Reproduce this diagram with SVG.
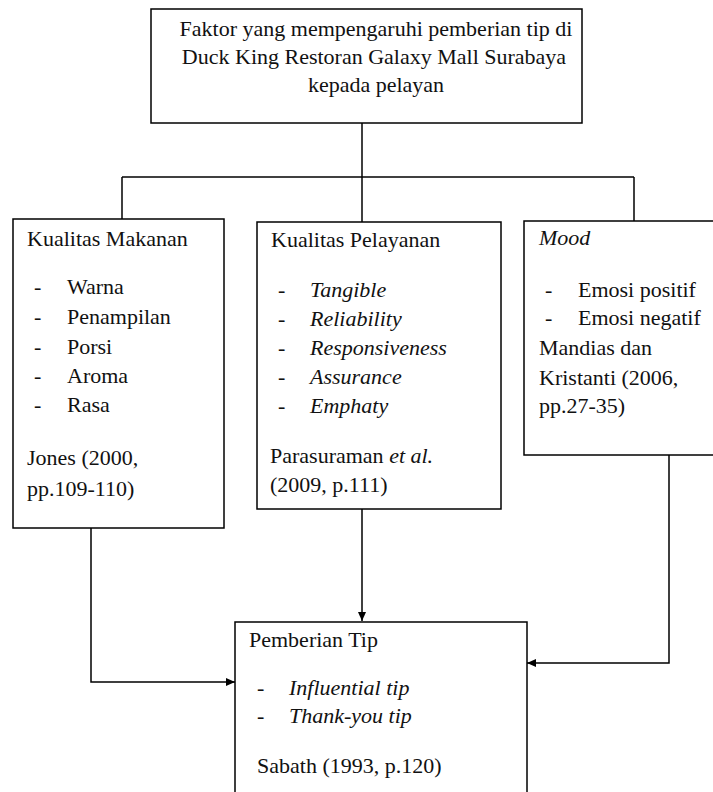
<svg xmlns="http://www.w3.org/2000/svg" width="713" height="792" viewBox="0 0 713 792">
<style>
.box{fill:#fff;stroke:#000;stroke-width:1.5}
text{font-family:'Liberation Serif','Times New Roman',Times,'DejaVu Serif',serif;font-size:22px;fill:#111}
.i{font-style:italic}
.c{text-anchor:middle}
.ln{fill:none;stroke:#000;stroke-width:1.5}
</style>
<defs>
<marker id="ah" markerWidth="10" markerHeight="10" refX="9" refY="5" orient="auto" markerUnits="userSpaceOnUse">
<path d="M0,1 L9,5 L0,9 Z" fill="#000"/>
</marker>
</defs>
<rect width="713" height="792" fill="#fff"/>
<g id="connectors">
<path class="ln" d="M362,123 V177"/>
<path class="ln" d="M122,177 H634"/>
<path class="ln" d="M122,177 V219"/>
<path class="ln" d="M362,177 V222"/>
<path class="ln" d="M634,177 V221"/>
<path class="ln" d="M362,509 V621" marker-end="url(#ah)"/>
<path class="ln" d="M91,528 V682 H235" marker-end="url(#ah)"/>
<path class="ln" d="M669,455 V663 H527" marker-end="url(#ah)"/>
</g>
<g id="top" font-family="Liberation Serif, serif">
<rect class="box" x="151" y="9" width="431" height="114"/>
<text class="c" x="376" y="36">Faktor yang mempengaruhi pemberian tip di</text>
<text class="c" x="374" y="64">Duck King Restoran Galaxy Mall Surabaya</text>
<text class="c" x="376" y="92">kepada pelayan</text>
</g>
<g id="makanan">
<rect class="box" x="13" y="219" width="211" height="309"/>
<text x="27" y="246">Kualitas Makanan</text>
<text x="34" y="294">-</text><text x="67" y="294">Warna</text>
<text x="34" y="324">-</text><text x="67" y="324">Penampilan</text>
<text x="34" y="354">-</text><text x="67" y="354">Porsi</text>
<text x="34" y="383">-</text><text x="67" y="383">Aroma</text>
<text x="34" y="412">-</text><text x="67" y="412">Rasa</text>
<text x="27" y="465">Jones (2000,</text>
<text x="27" y="496">pp.109-110)</text>
</g>
<g id="pelayanan">
<rect class="box" x="257" y="222" width="244" height="287"/>
<text x="271" y="247">Kualitas Pelayanan</text>
<text x="278" y="297">-</text><text class="i" x="310" y="297">Tangible</text>
<text x="278" y="326">-</text><text class="i" x="310" y="326">Reliability</text>
<text x="278" y="355">-</text><text class="i" x="310" y="355">Responsiveness</text>
<text x="278" y="384">-</text><text class="i" x="310" y="384">Assurance</text>
<text x="278" y="413">-</text><text class="i" x="310" y="413">Emphaty</text>
<text x="270" y="463">Parasuraman <tspan class="i">et al.</tspan></text>
<text x="270" y="492">(2009, p.111)</text>
</g>
<g id="mood">
<rect class="box" x="524" y="221" width="192" height="234"/>
<text class="i" x="539" y="245">Mood</text>
<text x="545" y="297">-</text><text x="578" y="297">Emosi positif</text>
<text x="545" y="325">-</text><text x="578" y="325">Emosi negatif</text>
<text x="539" y="355">Mandias dan</text>
<text x="539" y="385">Kristanti (2006,</text>
<text x="539" y="413">pp.27-35)</text>
</g>
<g id="tip">
<rect class="box" x="235" y="622" width="292" height="180"/>
<text x="249" y="647">Pemberian Tip</text>
<text x="257" y="695">-</text><text class="i" x="289" y="695">Influential tip</text>
<text x="257" y="723">-</text><text class="i" x="289" y="723">Thank-you tip</text>
<text x="257" y="773">Sabath (1993, p.120)</text>
</g>
</svg>
